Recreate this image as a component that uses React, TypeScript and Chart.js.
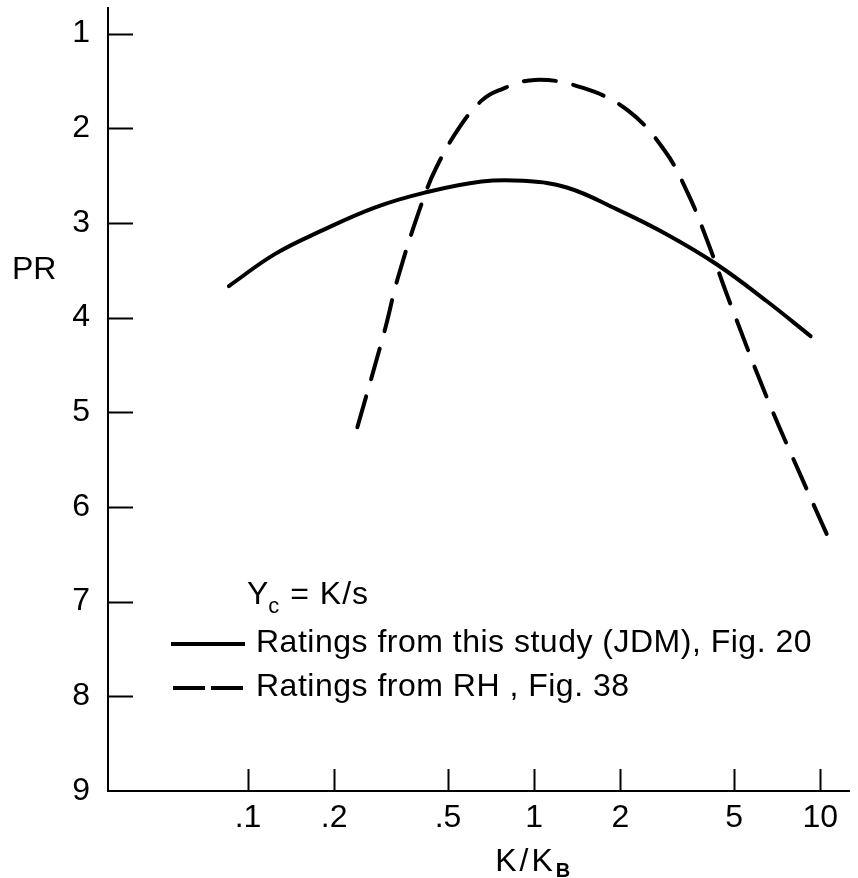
import React, { useEffect, useRef } from "react";
import { Chart, registerables } from "chart.js";

Chart.register(...registerables);

// ---- data ----
const xTickValues = [0.1, 0.2, 0.5, 1, 2, 5, 10];
const xTickLabels = [".1", ".2", ".5", "1", "2", "5", "10"];
const yTickValues = [1, 2, 3, 4, 5, 6, 7, 8, 9];
const yTickLabels = ["1", "2", "3", "4", "5", "6", "7", "8", "9"];

// Ratings from this study (JDM), Fig. 20
const solidK = [0.0857, 0.124, 0.18, 0.277, 0.415, 0.655, 0.915, 1.3, 1.94, 2.9, 4.34, 6.49, 9.25];
const solidPR = [3.667, 3.33, 3.085, 2.838, 2.68, 2.563, 2.556, 2.626, 2.855, 3.12, 3.437, 3.825, 4.196];

// Ratings from RH, Fig. 38
const dashedK = [0.241, 0.301, 0.334, 0.404, 0.455, 0.55, 0.655, 0.748, 1.006, 1.483, 2.13, 2.86, 3.455, 4.005, 4.83, 6.58, 8.72, 10.75];
const dashedPR = [5.159, 4.125, 3.579, 2.8, 2.415, 1.984, 1.709, 1.603, 1.49, 1.575, 1.815, 2.238, 2.696, 3.17, 3.84, 4.88, 5.73, 6.347];

const xTitleMain = "K/K";
const xTitleSub = "B";
const yTitle = "PR";
const noteMain = "Y";
const noteSub = "c";
const noteRest = " = K/s";
const legendSolid = "Ratings from this study (JDM), Fig. 20";
const legendDashed = "Ratings from RH , Fig. 38";

const FONT = "'Liberation Sans', Arial, Helvetica, sans-serif";

const decor = {
  id: "decor",
  afterDraw(chart: any) {
    const { ctx, chartArea: ca } = chart;
    const x = chart.scales.x;
    const y = chart.scales.y;
    ctx.save();
    ctx.strokeStyle = "#000";
    ctx.fillStyle = "#000";
    ctx.lineWidth = 2;
    ctx.lineCap = "butt";
    // axes
    ctx.beginPath();
    ctx.moveTo(ca.left, ca.top);
    ctx.lineTo(ca.left, ca.bottom);
    ctx.lineTo(ca.right, ca.bottom);
    ctx.stroke();
    // y ticks (inward)
    yTickValues.forEach((v) => {
      if (v >= 9) return;
      const py = Math.round(y.getPixelForValue(v)) + 0.5;
      ctx.beginPath();
      ctx.moveTo(ca.left, py);
      ctx.lineTo(ca.left + 25, py);
      ctx.stroke();
    });
    // x ticks (inward)
    xTickValues.forEach((v) => {
      const px = Math.round(x.getPixelForValue(v)) + 0.5;
      ctx.beginPath();
      ctx.moveTo(px, ca.bottom);
      ctx.lineTo(px, ca.bottom - 22);
      ctx.stroke();
    });

    // y title (horizontal)
    ctx.font = `32px ${FONT}`;
    ctx.textBaseline = "middle";
    ctx.textAlign = "left";
    ctx.fillText(yTitle, 12, y.getPixelForValue(3.5));

    // x title with subscript
    ctx.letterSpacing = "3px";
    const cx = x.getPixelForValue(1);
    ctx.font = `32px ${FONT}`;
    const mainW = ctx.measureText(xTitleMain).width;
    ctx.font = `bold 20px ${FONT}`;
    const subW = ctx.measureText(xTitleSub).width;
    const startX = cx - (mainW + subW) / 2;
    ctx.font = `32px ${FONT}`;
    ctx.textBaseline = "alphabetic";
    ctx.fillText(xTitleMain, startX, 871);
    ctx.font = `bold 20px ${FONT}`;
    ctx.fillText(xTitleSub, startX + mainW, 877);
    ctx.letterSpacing = "0px";

    // note Yc = K/s
    ctx.letterSpacing = "1px";
    ctx.font = `32px ${FONT}`;
    ctx.fillText(noteMain, 247, 604);
    const yw = ctx.measureText(noteMain).width;
    ctx.font = `22px ${FONT}`;
    ctx.fillText(noteSub, 246 + yw, 613);
    const cw = ctx.measureText(noteSub).width;
    ctx.font = `32px ${FONT}`;
    ctx.fillText(noteRest, 246 + yw + cw, 604);

    // legend samples
    ctx.lineWidth = 4;
    ctx.beginPath();
    ctx.moveTo(171, 644);
    ctx.lineTo(245, 644);
    ctx.stroke();
    ctx.setLineDash([32, 6]);
    ctx.beginPath();
    ctx.moveTo(173, 688);
    ctx.lineTo(243, 688);
    ctx.stroke();
    ctx.setLineDash([]);

    ctx.letterSpacing = "0.5px";
    ctx.textBaseline = "middle";
    ctx.fillText(legendSolid, 256, 643);
    ctx.fillText(legendDashed, 256, 687);
    ctx.restore();
  },
};

export default function App() {
  const ref = useRef<HTMLCanvasElement>(null);
  useEffect(() => {
    const chart = new Chart(ref.current as HTMLCanvasElement, {
      type: "line",
      data: {
        datasets: [
          {
            label: legendSolid,
            data: solidK.map((k, i) => ({ x: k, y: solidPR[i] })),
            borderColor: "#000",
            borderWidth: 4,
            pointRadius: 0,
            tension: 0.4,
            fill: false,
            borderCapStyle: "round",
          },
          {
            label: legendDashed,
            data: dashedK.map((k, i) => ({ x: k, y: dashedPR[i] })),
            borderColor: "#000",
            borderWidth: 4,
            pointRadius: 0,
            tension: 0.4,
            fill: false,
            borderDash: [32, 18],
            borderCapStyle: "round",
          },
        ],
      },
      options: {
        responsive: false,
        animation: false,
        events: [],
        layout: { padding: { top: 7, right: 8, left: 0, bottom: 0 } },
        plugins: {
          legend: { display: false },
          tooltip: { enabled: false },
        },
        scales: {
          x: {
            type: "logarithmic",
            min: 0.0324,
            max: 12.7,
            afterBuildTicks: (s: any) => {
              s.ticks = xTickValues.map((v) => ({ value: v }));
            },
            afterFit: (s: any) => {
              s.height = 87;
              s.paddingLeft = 0;
              s.paddingRight = 0;
            },
            ticks: {
              autoSkip: false,
              maxRotation: 0,
              padding: 0,
              color: "#000",
              font: { size: 32, family: FONT },
              callback: (_v: any, i: number) => xTickLabels[i],
            },
            grid: { display: false },
            border: { display: false },
          },
          y: {
            type: "linear",
            reverse: true,
            min: 0.72,
            max: 9,
            afterBuildTicks: (s: any) => {
              s.ticks = yTickValues.map((v) => ({ value: v }));
            },
            afterFit: (s: any) => {
              s.width = 108;
              s.paddingTop = 0;
              s.paddingBottom = 0;
            },
            ticks: {
              padding: 10,
              color: "#000",
              font: { size: 32, family: FONT },
              callback: (_v: any, i: number) => yTickLabels[i],
            },
            grid: { display: false },
            border: { display: false },
          },
        },
      },
      plugins: [decor],
    } as any);
    return () => chart.destroy();
  }, []);
  return (
    <div style={{ position: "fixed", left: 0, top: 0, width: 858, height: 878, background: "#fff" }}>
      <canvas ref={ref} width={858} height={878} style={{ display: "block" }} />
    </div>
  );
}
